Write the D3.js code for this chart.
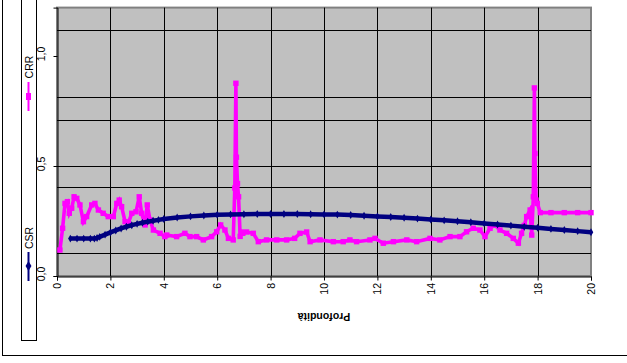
<!DOCTYPE html>
<html><head><meta charset="utf-8">
<script src="https://cdn.jsdelivr.net/npm/d3@7"></script>
<style>body{margin:0;background:#fff}svg{display:block;font-family:"Liberation Sans",Arial,sans-serif}</style>
</head><body><svg id="c" width="627" height="363"></svg>
<script>
const xTicks = [0,2,4,6,8,10,12,14,16,18,20];
const yTicks = [0.0, 0.5, 1.0];
const yTickLabels = ["0,0","0,5","1,0"];
const yGridValues = [0.105, 0.405, 0.5, 0.709, 0.814, 1.118];
const xTitle = "Profondità";
const seriesNames = ["CSR","CRR"];

const csrDepth = [0.5,0.75,1.0,1.25,1.4,1.5,1.6,1.8,2.0,2.2,2.4,2.6,2.8,3.0,3.2,3.4,3.6,3.8,4.0,4.5,5.0,5.5,6.0,6.5,7.0,7.5,8.0,8.5,9.0,9.5,10.0,10.5,11.0,11.5,12.0,12.5,13.0,13.5,14.0,14.5,15.0,15.5,16.0,16.5,17.0,17.5,18.0,18.5,19.0,19.5,20.0];
const csrValue = [0.170,0.170,0.170,0.170,0.170,0.173,0.178,0.188,0.198,0.207,0.216,0.224,0.231,0.237,0.242,0.247,0.251,0.255,0.259,0.266,0.271,0.275,0.278,0.280,0.281,0.282,0.282,0.282,0.282,0.281,0.280,0.279,0.277,0.274,0.271,0.268,0.265,0.261,0.257,0.253,0.249,0.244,0.239,0.234,0.229,0.224,0.219,0.214,0.209,0.204,0.199];

const crrDepth = [0.11,0.21,0.30,0.39,0.46,0.55,0.64,0.74,0.86,0.99,1.11,1.30,1.42,1.55,1.73,1.92,2.11,2.24,2.33,2.42,2.55,2.67,2.80,2.96,3.08,3.17,3.30,3.38,3.48,3.61,3.86,4.04,4.11,4.48,4.79,4.98,5.23,5.48,5.79,5.98,6.13,6.29,6.42,6.60,6.66,6.70,6.72,6.76,6.80,6.86,6.90,6.96,7.10,7.35,7.54,7.85,8.23,8.60,8.90,9.10,9.35,9.48,9.85,10.35,10.72,10.97,11.22,11.72,11.91,12.22,12.60,13.10,13.47,13.97,14.34,14.72,15.09,15.34,15.59,15.84,16.03,16.22,16.40,16.59,16.84,17.09,17.28,17.40,17.50,17.59,17.72,17.78,17.84,17.88,17.90,17.94,17.99,18.10,18.5,19.0,19.5,20.0];
const crrValue = [0.118,0.217,0.330,0.338,0.285,0.308,0.360,0.353,0.323,0.247,0.270,0.323,0.330,0.300,0.285,0.270,0.270,0.330,0.345,0.315,0.247,0.240,0.285,0.292,0.360,0.285,0.232,0.323,0.255,0.209,0.194,0.179,0.186,0.179,0.194,0.179,0.179,0.164,0.179,0.201,0.232,0.209,0.171,0.164,0.400,0.876,0.540,0.420,0.360,0.180,0.200,0.194,0.200,0.194,0.156,0.164,0.164,0.164,0.171,0.194,0.200,0.156,0.164,0.156,0.156,0.164,0.156,0.164,0.171,0.149,0.156,0.164,0.156,0.171,0.164,0.179,0.179,0.201,0.217,0.209,0.179,0.217,0.232,0.209,0.194,0.171,0.149,0.194,0.230,0.270,0.300,0.186,0.360,0.855,0.557,0.345,0.330,0.288,0.288,0.288,0.288,0.288];

const svg = d3.select("#c");
const x = d3.scaleLinear().domain([0,20]).range([57,591]);
const y = d3.scaleLinear().domain([0,1.22]).range([276,7.6]);

// outer chart border
svg.append("rect").attr("x",2.5).attr("y",-5).attr("width",640).attr("height",360.5)
  .attr("fill","#fff").attr("stroke","#000").attr("stroke-width",1);

// plot area
svg.append("rect").attr("x",x(0)).attr("y",y(1.22)).attr("width",x(20)-x(0)).attr("height",y(0)-y(1.22))
  .attr("fill","#C0C0C0").attr("stroke","#808080").attr("stroke-width",2);

// gridlines
svg.append("g").selectAll("line").data(xTicks.slice(1,-1)).join("line")
  .attr("x1",d=>Math.round(x(d))+0.5).attr("x2",d=>Math.round(x(d))+0.5)
  .attr("y1",y(1.22)).attr("y2",y(0)).attr("stroke","#000").attr("stroke-width",1);
svg.append("g").selectAll("line").data(yGridValues).join("line")
  .attr("x1",x(0)).attr("x2",x(20))
  .attr("y1",d=>Math.round(y(d))+0.5).attr("y2",d=>Math.round(y(d))+0.5)
  .attr("stroke","#000").attr("stroke-width",1);

// axes
const xAxis = d3.axisBottom(x).tickValues(xTicks).tickSize(4).tickFormat("");
const gx = svg.append("g").attr("transform",`translate(0,${Math.round(y(0))+0.5})`).call(xAxis);
gx.select(".domain").attr("stroke","#000");
gx.selectAll(".tick line").attr("stroke","#000");
const yAxis = d3.axisLeft(y).tickValues(yTicks).tickSize(4).tickFormat("");
const gy = svg.append("g").attr("transform",`translate(${Math.round(x(0))+0.5},0)`).call(yAxis);
gy.select(".domain").attr("stroke","#000");
gy.selectAll(".tick line").attr("stroke","#000");

// tick labels (rotated)
svg.append("g").selectAll("text").data(xTicks).join("text")
  .attr("transform",d=>`translate(${x(d)+4},283) rotate(-90)`)
  .attr("text-anchor","end").attr("font-size",10.5).attr("fill","#000").text(d=>d);
svg.append("g").selectAll("text").data(yTicks).join("text")
  .attr("transform",d=>`translate(45,${y(d)-2}) rotate(-90)`)
  .attr("text-anchor","middle").attr("font-size",10.5).attr("fill","#000").text((d,i)=>yTickLabels[i]);

// axis title upside down
svg.append("text").attr("transform","translate(324,313) rotate(180)")
  .attr("text-anchor","middle").attr("font-size",10.5).attr("font-weight","bold").text(xTitle);

// series
const csr = csrDepth.map((d,i)=>({d, v:csrValue[i]}));
const crr = crrDepth.map((d,i)=>({d, v:crrValue[i]}));
const line = d3.line().x(p=>x(p.d)).y(p=>y(p.v));

svg.append("path").datum(crr).attr("d",line).attr("fill","none").attr("stroke","#FF00FF").attr("stroke-width",3.6);
svg.append("g").selectAll("rect").data(crr).join("rect")
  .attr("x",p=>x(p.d)-2.7).attr("y",p=>y(p.v)-2.7).attr("width",5.4).attr("height",5.4).attr("fill","#FF00FF");

svg.append("path").datum(csr).attr("d",line).attr("fill","none").attr("stroke","#000080").attr("stroke-width",4.5);
const diamond = d3.symbol().type(d3.symbolDiamond).size(18);
svg.append("g").selectAll("path").data(csr).join("path")
  .attr("transform",p=>`translate(${x(p.d)},${y(p.v)})`).attr("d",diamond).attr("fill","#000080");

// legend (rotated)
svg.append("rect").attr("x",21.5).attr("y",-2).attr("width",15).attr("height",342.5)
  .attr("fill","#fff").attr("stroke","#000").attr("stroke-width",1);
const lg = svg.append("g");
lg.append("line").attr("x1",28.5).attr("x2",28.5).attr("y1",82).attr("y2",111).attr("stroke","#FF00FF").attr("stroke-width",2);
lg.append("rect").attr("x",26).attr("y",93).attr("width",5).attr("height",7).attr("fill","#FF00FF");
lg.append("text").attr("transform","translate(33,67) rotate(-90)").attr("text-anchor","middle").attr("font-size",10.5).text(seriesNames[1]);
lg.append("line").attr("x1",28.5).attr("x2",28.5).attr("y1",252).attr("y2",281).attr("stroke","#000080").attr("stroke-width",2);
lg.append("path").attr("transform","translate(28.5,266)").attr("d",d3.symbol().type(d3.symbolDiamond).size(30)).attr("fill","#000080");
lg.append("text").attr("transform","translate(33,238) rotate(-90)").attr("text-anchor","middle").attr("font-size",10.5).text(seriesNames[0]);
</script></body></html>
